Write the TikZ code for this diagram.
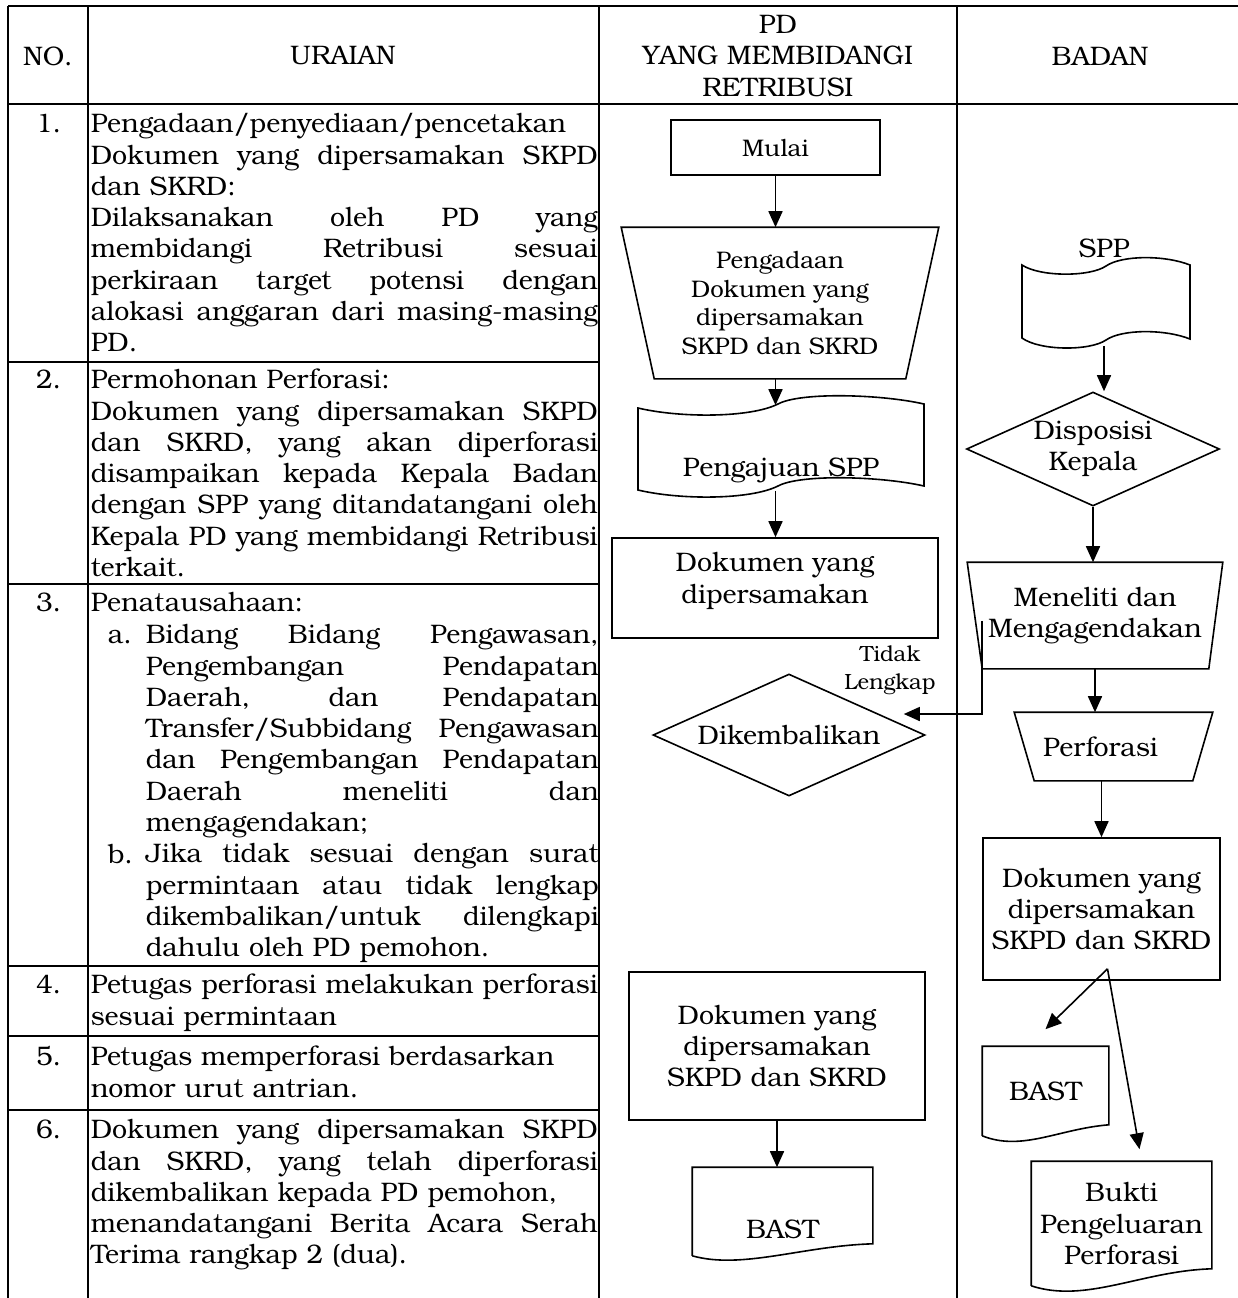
\documentclass[tikz,border=0pt]{standalone}
\usepackage{fontspec}
\setmainfont{texgyrebonum-regular.otf}
\usetikzlibrary{arrows.meta}
\usetikzlibrary{shapes.geometric}

\newcommand{\tblfont}{\fontsize{13.4}{15.65}\selectfont}
\newcommand{\flowfont}{\fontsize{12}{14.25}\selectfont}
\newcommand{\notefont}{\fontsize{11}{14}\selectfont}
\newlength{\rw}\setlength{\rw}{253.5pt}
\newlength{\iw}\setlength{\iw}{226.5pt}
% justified line / ragged line
\newcommand{\jrow}[2][\rw]{\makebox[#1][s]{\spaceskip=\fontdimen2\font plus 1fil\strut #2}}
\newcommand{\lrow}[2][\rw]{\makebox[#1][l]{\strut #2}}
\setlength{\parindent}{0pt}

\begin{document}
\begin{tikzpicture}[x=0.5pt,y=-0.5pt,line width=0.8pt,
    txt/.style={font=\tblfont,inner sep=0pt},
    blk/.style={txt,anchor=north west,text width=\rw,align=left},
    num/.style={txt,anchor=north east},
    box/.style={draw,font=\tblfont,inner sep=0pt,align=center},
    dia/.style={draw,diamond,aspect=2.2,inner sep=0pt,font=\tblfont,align=center},
    arr/.style={-{Triangle[length=8pt,width=7pt]}}]
    \useasboundingbox (0,0) rectangle (1238,1298);

    % table grid
    \draw (8,6) -- (1238,6) (8,104) -- (1238,104);
    \foreach \x in {8,88,599,957} \draw (\x,6) -- (\x,1298);
    \foreach \y in {362,584,966,1036,1110} \draw (8,\y) -- (599,\y);

    % header
    \node[txt] (hno) at (48,56) {NO.};
    \node[txt] (hur) at (343,56) {URAIAN};
    \node[txt,align=center] (hpd) at (778,56) {PD\\YANG MEMBIDANGI\\RETRIBUSI};
    \node[txt] (hbd) at (1100,56) {BADAN};

    % numbers
    \node[num] (n1) at (62,110) {\strut 1.};
    \node[num] (n2) at (62,366) {\strut 2.};
    \node[num] (n3) at (62,589) {\strut 3.};
    \node[num] (n4) at (62,971) {\strut 4.};
    \node[num] (n5) at (62,1043) {\strut 5.};
    \node[num] (n6) at (62,1116) {\strut 6.};

    % uraian
    \node[blk] (r1) at (90,110) {\lrow{Pengadaan/penyediaan/pencetakan}\\
        \jrow{Dokumen yang dipersamakan SKPD}\\
        \lrow{dan SKRD:}\\
        \jrow{Dilaksanakan oleh PD yang}\\
        \jrow{membidangi Retribusi sesuai}\\
        \jrow{perkiraan target potensi dengan}\\
        \jrow{alokasi anggaran dari masing-masing}\\
        \lrow{PD.}};
    \node[blk] (r2) at (90,366) {\lrow{Permohonan Perforasi:}\\
        \jrow{Dokumen yang dipersamakan SKPD}\\
        \jrow{dan SKRD, yang akan diperforasi}\\
        \jrow{disampaikan kepada Kepala Badan}\\
        \jrow{dengan SPP yang ditandatangani oleh}\\
        \jrow{Kepala PD yang membidangi Retribusi}\\
        \lrow{terkait.}};
    \node[blk] (r3) at (90,589) {\lrow{Penatausahaan:}};
    \node[txt,anchor=north west] (la) at (107,621) {\strut a.};
    \node[txt,anchor=north west] (lb) at (107,841) {\strut b.};
    \node[blk,text width=\iw] (r3i) at (145,621) {\jrow[\iw]{Bidang Bidang Pengawasan,}\\
        \jrow[\iw]{Pengembangan Pendapatan}\\
        \jrow[\iw]{Daerah, dan Pendapatan}\\
        \jrow[\iw]{Transfer/Subbidang Pengawasan}\\
        \jrow[\iw]{dan Pengembangan Pendapatan}\\
        \jrow[\iw]{Daerah meneliti dan}\\
        \lrow[\iw]{mengagendakan;}\\
        \jrow[\iw]{Jika tidak sesuai dengan surat}\\
        \jrow[\iw]{permintaan atau tidak lengkap}\\
        \jrow[\iw]{dikembalikan/untuk dilengkapi}\\
        \lrow[\iw]{dahulu oleh PD pemohon.}};
    \node[blk] (r4) at (90,971) {\jrow{Petugas perforasi melakukan perforasi}\\
        \lrow{sesuai permintaan}};
    \node[blk] (r5) at (90,1043) {\lrow{Petugas memperforasi berdasarkan}\\
        \lrow{nomor urut antrian.}};
    \node[blk] (r6) at (90,1116) {\jrow{Dokumen yang dipersamakan SKPD}\\
        \jrow{dan SKRD, yang telah diperforasi}\\
        \lrow{dikembalikan kepada PD pemohon,}\\
        \jrow{menandatangani Berita Acara Serah}\\
        \lrow{Terima rangkap 2 (dua).}};

    % PD yang membidangi retribusi
    \node[box,font=\flowfont,minimum width=104.5pt,minimum height=27.5pt] (mulai) at (775.5,147.5) {Mulai};
    \node[txt,font=\flowfont,align=center,minimum width=158pt,minimum height=75pt] (pgd) at (780,303) {Pengadaan\\Dokumen yang\\dipersamakan\\SKPD dan SKRD};
    \draw (pgd.north west) -- (pgd.north east) -- ([xshift=-16.5pt]pgd.south east) -- ([xshift=16.5pt]pgd.south west) -- cycle;
    \node[txt,anchor=base,minimum width=143pt,text height=35pt,text depth=7pt] (aju) at (781,476) {Pengajuan SPP};
    \draw (638,408) .. controls (680,418) and (750,418) .. (778,404) .. controls (800,392) and (880,394) .. (924,404)
        -- (924,486) .. controls (880,476) and (800,474) .. (778,486) .. controls (750,500) and (680,500) .. (638,490) -- cycle;
    \node[box,minimum width=163pt,minimum height=50pt] (dok1) at (775,588) {Dokumen yang\\dipersamakan\rule[-10pt]{0pt}{10pt}};
    \node[dia,minimum width=136pt,minimum height=61pt] (dik) at (789,735) {Dikembalikan};
    \coordinate (dikin) at ([xshift=-11pt,yshift=10.5pt]dik.east);
    \node[txt,font=\notefont,align=center] (tdk) at (890,670) {Tidak\\Lengkap};
    \node[box,minimum width=148pt,minimum height=74pt] (dok2) at (777,1046) {Dokumen yang\\dipersamakan\\SKPD dan SKRD};
    \node[txt,anchor=base,minimum width=89.5pt,text height=35pt,text depth=8.5pt] (bast1) at (782.5,1238) {BAST};
    \draw (bast1.south west) -- (bast1.north west) -- (bast1.north east) -- ([yshift=6pt]bast1.south east) .. controls +(-70,2) and +(50,14) .. (bast1.south west);

    % Badan
    \node[txt,anchor=base,minimum width=84pt,text height=0pt,text depth=44pt] (spp) at (1104,257) {SPP};
    \draw (1022,265) .. controls (1040,277) and (1090,277) .. (1106,266) .. controls (1122,255) and (1165,255) .. (1190,265)
        -- (1190,339) .. controls (1165,329) and (1122,329) .. (1106,340) .. controls (1090,351) and (1040,351) .. (1022,338) -- cycle;
    \node[dia,minimum width=126.5pt,minimum height=57pt] (disp) at (1093,449) {Disposisi\\Kepala};
    \node[txt,align=center,minimum width=127pt,minimum height=52.5pt] (men) at (1095,615.5) {Meneliti dan\\Mengagendakan};
    \draw (men.north west) -- (men.north east) -- ([xshift=-7pt]men.south east) -- ([xshift=7.5pt]men.south west) -- cycle;
    \node[txt,minimum width=98.5pt,minimum height=33.5pt] (perf) at (1113.5,746.5) {Perforasi\hspace*{13pt}};
    \draw (perf.north west) -- (perf.north east) -- ([xshift=-10pt]perf.south east) -- ([xshift=10pt]perf.south west) -- cycle;
    \node[box,minimum width=118.5pt,minimum height=71pt] (dok3) at (1101.5,909) {Dokumen yang\\dipersamakan\\SKPD dan SKRD};
    \coordinate (fan) at ([xshift=3pt,yshift=6pt]dok3.south);
    \node[txt,minimum width=62.5pt,minimum height=44pt] (bast2) at (1045.5,1091) {BAST};
    \draw (bast2.south west) -- (bast2.north west) -- (bast2.north east) -- ([yshift=5.5pt]bast2.south east) .. controls +(-50,4) and +(40,16) .. (bast2.south west);
    \node[txt,align=center,minimum width=89.5pt,minimum height=61.5pt] (bukti) at (1121.5,1223.5) {Bukti\\Pengeluaran\\Perforasi};
    \draw (bukti.south west) -- (bukti.north west) -- (bukti.north east) -- ([yshift=8.5pt]bukti.south east) .. controls +(-70,2) and +(55,18) .. (bukti.south west);

    % arrows
    \draw[arr] (mulai) -- (mulai |- pgd.north);
    \draw[arr] (pgd.south -| mulai) -- (mulai |- aju.north);
    \draw[arr] (aju.south -| mulai) -- (mulai |- dok1.north);
    \draw[arr] (dok2) -- (dok2 |- bast1.north);
    \draw[arr] (spp.south) -- (spp.south |- disp.north);
    \draw[arr] (disp) -- (disp |- men.north);
    \draw[arr] ([xshift=7.5pt,yshift=24pt]men.south west) |- (dikin);
    \draw[arr] (men) -- (men |- perf.north);
    \draw[arr] (perf.south -| dok3) -- (dok3.north);
    \draw[arr] (fan) -- ([yshift=8.5pt]bast2.north);
    \draw[arr] (fan) -- ([xshift=9pt,yshift=6pt]bukti.north);
\end{tikzpicture}
\end{document}
